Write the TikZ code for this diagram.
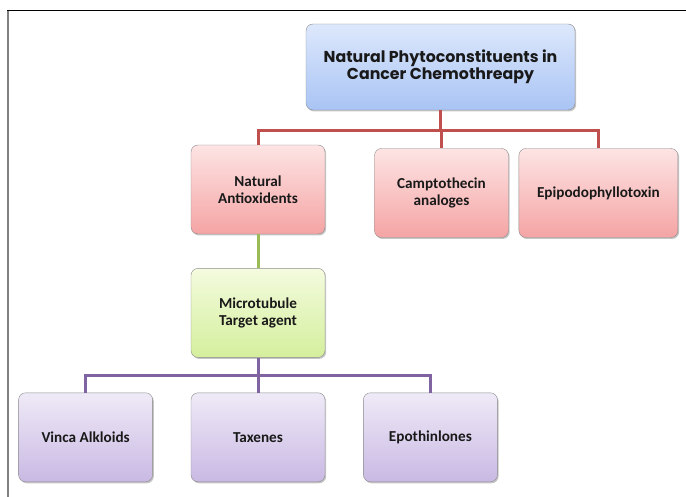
\documentclass[tikz,border=0pt]{standalone}
\usepackage{fontspec}
\setmainfont{Carlito}
\newfontfamily\titlefont{Poppins}
\usepackage{tikz}
\usetikzlibrary{calc}
\usetikzlibrary{positioning}
\usetikzlibrary{shadows}
\usepackage{xcolor}

\definecolor{rootTop}{HTML}{DDE8FC}
\definecolor{rootBot}{HTML}{A9C4F4}
\definecolor{redTop}{HTML}{FDE4E4}
\definecolor{redBot}{HTML}{F5A4A4}
\definecolor{greenTop}{HTML}{F4FBDE}
\definecolor{greenBot}{HTML}{D4EF9D}
\definecolor{violetTop}{HTML}{EFEAF7}
\definecolor{violetBot}{HTML}{C9B9E3}
\definecolor{redLine}{HTML}{C0504D}
\definecolor{greenLine}{HTML}{9BBB59}
\definecolor{violetLine}{HTML}{8064A2}

\begin{document}
\begin{tikzpicture}[
	x=1pt, y=1pt,
	box/.style={rectangle, rounded corners=7pt, draw=black!45, thin, align=center,
		font=\fontsize{15.2}{17}\selectfont\bfseries, text=black!90,
		drop shadow={shadow xshift=1.2pt, shadow yshift=-1.5pt, opacity=0.45}},
	r/.style={box, top color=rootTop, bottom color=rootBot, minimum width=269, minimum height=86,
		font=\titlefont\fontsize{15.8}{17}\selectfont\bfseries},
	c/.style={box, top color=redTop, bottom color=redBot, minimum width=134, minimum height=89},
	g/.style={box, top color=greenTop, bottom color=greenBot, minimum width=134, minimum height=89},
	v/.style={box, top color=violetTop, bottom color=violetBot, minimum width=134, minimum height=89},
	link/.style={line width=3pt},
	]
	\useasboundingbox (0,0) rectangle (686,-497);
	
	%Frame
	\draw[black, line width=1pt] (7,-11) -- (686,-11);
	\draw[black!50, line width=2pt] (8,-11) -- (8,-497);
	
	%Nodes
	\node[r]    (root)      at (440.5,-67)          {Natural Phytoconstituents in\\Cancer Chemothreapy};
	\node[c]    (antiox)    at (258,-189.5)         {Natural\\Antioxidents};
	\node[c]    (campto)    at (441.5,-193)         {Camptothecin\\analoges};
	\node[c, minimum width=159] (epipodo) [right = 10 of campto] {Epipodophyllotoxin};
	\node[g]    (microtub)  [below = 34 of antiox]  {Microtubule\\Target agent};
	\node[v]    (taxenes)   [below = 35 of microtub] {Taxenes};
	\node[v]    (vinca)     [left = 38 of taxenes]  {Vinca Alkloids};
	\node[v]    (epothin)   [right = 38 of taxenes] {Epothinlones};
	
	%Lines
	\coordinate (rbus) at ($(root.south)+(0,-20)$);
	\coordinate (vbus) at ($(microtub.south)+(0,-18)$);
	\draw[link, redLine] (root.south) -- (rbus);
	\draw[link, redLine] (antiox.north) |- (rbus) -| (epipodo.north);
	\draw[link, redLine] (campto.north) -- (campto.north |- rbus);
	\draw[link, greenLine] (antiox.south) -- (microtub.north);
	\draw[link, violetLine] (microtub.south) -- (vbus);
	\draw[link, violetLine] (vinca.north) |- (vbus) -| (epothin.north);
	\draw[link, violetLine] (taxenes.north) -- (vbus);
\end{tikzpicture}
\end{document}
